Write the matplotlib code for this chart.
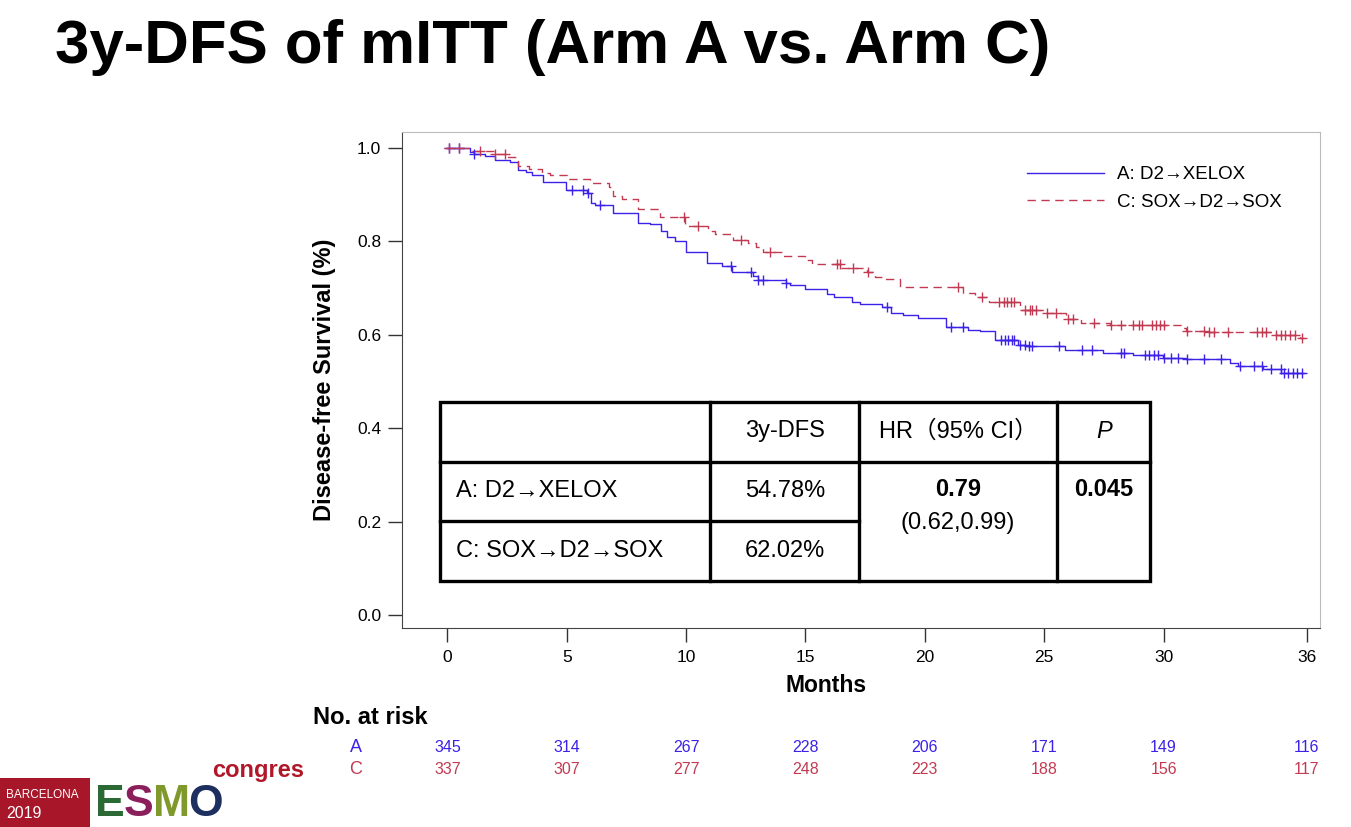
import numpy as np
import matplotlib
matplotlib.use("Agg")
import matplotlib.pyplot as plt
from matplotlib.patches import Rectangle
from matplotlib.transforms import blended_transform_factory

SANS = ["Liberation Sans", "DejaVu Sans"]
CJK = ["Liberation Sans", "Noto Sans CJK SC", "DejaVu Sans"]
plt.rcParams["font.family"] = SANS

BLUE = "#3b22e6"
RED = "#c23a52"

# Kaplan-Meier steps (months, survival)
a_times = [0, 0.96, 1.1, 1.59, 2.0, 2.64, 2.94, 3.3, 3.54, 4.0, 4.98, 5.84, 6.0, 6.2,
           6.93, 8.0, 8.5, 8.94, 9.19, 9.54, 9.98, 10.87, 11.49, 11.91, 12.82, 13.0,
           14.2, 14.35, 14.98, 15.9, 16.2, 16.93, 17.28, 18.19, 18.6, 19.1, 19.72,
           20.9, 21.8, 22.3, 22.93, 23.9, 24.25, 25.86, 27.46, 28.7, 29.97, 30.95,
           32.76, 33.1, 34.15, 34.92, 35.9]
a_surv = [1.0, 0.991, 0.987, 0.983, 0.973, 0.969, 0.953, 0.948, 0.942, 0.928, 0.910,
          0.903, 0.882, 0.878, 0.860, 0.840, 0.836, 0.821, 0.810, 0.801, 0.778, 0.754,
          0.747, 0.735, 0.726, 0.717, 0.710, 0.707, 0.697, 0.687, 0.680, 0.671, 0.666,
          0.659, 0.647, 0.642, 0.635, 0.617, 0.610, 0.607, 0.588, 0.578, 0.575, 0.567,
          0.560, 0.557, 0.551, 0.548, 0.539, 0.532, 0.526, 0.519, 0.519]
c_times = [0, 0.96, 1.94, 2.5, 2.96, 3.4, 3.96, 4.3, 5.0, 5.98, 6.75, 6.93, 7.3, 8.0,
           8.9, 9.96, 10.93, 11.2, 11.98, 12.6, 12.93, 13.2, 14.0, 15.0, 15.26, 16.5,
           17.56, 17.9, 18.2, 18.95, 21.6, 22.1, 22.7, 23.97, 25.0, 25.9, 26.56, 27.74,
           30.74, 30.95, 31.9, 34.7, 35.7, 35.9]
c_surv = [1.0, 0.994, 0.987, 0.980, 0.961, 0.954, 0.946, 0.941, 0.934, 0.924, 0.917,
          0.897, 0.890, 0.869, 0.853, 0.833, 0.821, 0.815, 0.803, 0.797, 0.787, 0.778,
          0.769, 0.760, 0.752, 0.742, 0.735, 0.724, 0.719, 0.703, 0.689, 0.680, 0.671,
          0.653, 0.646, 0.633, 0.626, 0.621, 0.614, 0.608, 0.605, 0.600, 0.593, 0.593]

# censoring marks (months)
a_cens = [0.05, 0.5, 1.1, 5.2, 5.7, 5.9, 6.4, 11.9, 12.7, 13.0, 13.2, 14.2, 18.4, 21.1,
          21.6, 23.2, 23.35, 23.5, 23.65, 23.75, 24.0, 24.2, 24.35, 24.5, 25.6, 26.6,
          27.0, 28.2, 28.35, 29.2, 29.4, 29.6, 29.75, 30.0, 30.3, 30.6, 31.0, 31.7,
          32.4, 33.2, 33.8, 34.1, 34.5, 34.9, 35.05, 35.2, 35.4, 35.6, 35.8]
c_cens = [0.05, 0.5, 1.38, 2.0, 2.4, 9.9, 10.5, 12.3, 13.5, 16.3, 16.45, 17.0, 17.6,
          21.4, 22.4, 23.1, 23.3, 23.45, 23.6, 23.75, 24.2, 24.4, 24.5, 24.65, 25.1,
          25.5, 26.0, 26.2, 27.1, 27.8, 28.2, 28.7, 28.95, 29.1, 29.5, 29.7, 29.85,
          30.0, 31.0, 31.7, 31.9, 32.1, 32.7, 33.9, 34.1, 34.3, 34.7, 34.9, 35.1, 35.3,
          35.5, 35.8]

risk_times = [0, 5, 10, 15, 20, 25, 30, 36]
risk_a = [345, 314, 267, 228, 206, 171, 149, 116]
risk_c = [337, 307, 277, 248, 223, 188, 156, 117]

arm_labels = ["A: D2\u2192XELOX", "C: SOX\u2192D2\u2192SOX"]
table_header = ["3y-DFS", "HR\uff0895% CI\uff09", "P"]
dfs_3y = ["54.78%", "62.02%"]
hr_text = "0.79"
hr_ci = "(0.62,0.99)"
p_text = "0.045"

W, H = 1351, 827
fig = plt.figure(figsize=(W / 100, H / 100), dpi=100)

# main KM axes
ax = fig.add_axes([402 / W, 1 - 628 / H, 918 / W, 496 / H])
ax.set_xlim(-1.9, 36.55)
ax.set_ylim(-0.028, 1.034)


def km_at(times, surv, t):
    idx = np.searchsorted(times, t, side="right") - 1
    return np.asarray(surv)[idx]


ax.step(a_times, a_surv, where="post", color=BLUE, lw=1.0, label=arm_labels[0])
ax.step(c_times, c_surv, where="post", color=RED, lw=1.0, ls=(0, (6, 4)),
        label=arm_labels[1])
ax.plot(a_cens, km_at(a_times, a_surv, a_cens), ls="none", marker="+", ms=7,
        mew=1.0, color=BLUE)
ax.plot(c_cens, km_at(c_times, c_surv, c_cens), ls="none", marker="+", ms=7,
        mew=1.0, color=RED)

ax.set_xticks(risk_times)
ax.set_yticks([0, 0.2, 0.4, 0.6, 0.8, 1.0])
ax.set_yticklabels(["0.0", "0.2", "0.4", "0.6", "0.8", "1.0"])
ax.tick_params(direction="out", length=10, width=1, color="#333333",
               labelsize=12.5, pad=5)
ax.tick_params(axis="x", pad=6)
for side in ["left", "bottom"]:
    ax.spines[side].set_color("#444444")
for side in ["top", "right"]:
    ax.spines[side].set_color("#bbbbbb")
ax.set_ylabel("Disease-free Survival (%)", fontsize=17, fontweight="bold", labelpad=15)
ax.set_xlabel("Months", fontsize=16.5, fontweight="bold", labelpad=6,
              x=(826 - 402) / 918)

ax.legend(loc="upper left", bbox_to_anchor=(0.671, 0.95), frameon=False,
          fontsize=13.5, handlelength=4.1, handletextpad=0.7, labelspacing=0.55,
          borderpad=0)

# overlay in pixel coordinates for the title, table and logo
cv = fig.add_axes([0, 0, 1, 1], zorder=5)
cv.set_xlim(0, W)
cv.set_ylim(H, 0)
cv.axis("off")

cv.text(55, 47, "3y-DFS of mITT (Arm A vs. Arm C)", fontsize=44.5, fontweight="bold",
        ha="left", va="center", color="black")

# summary table
tx0, tx1, ty0, ty1 = 440, 1150, 402, 581
cols = [710, 859, 1057]
cv.add_patch(Rectangle((tx0, ty0), tx1 - tx0, ty1 - ty0, facecolor="white",
                       edgecolor="black", lw=2.4))
for cx in cols:
    cv.plot([cx, cx], [ty0, ty1], color="black", lw=2.4)
cv.plot([tx0, tx1], [462, 462], color="black", lw=2.4)
cv.plot([tx0, cols[1]], [521, 521], color="black", lw=2.4)

tfs = 17
cv.text(785, 431, table_header[0], fontsize=tfs, family=CJK, ha="center", va="center")
cv.text(958, 431, table_header[1], fontsize=tfs, family=CJK, ha="center", va="center")
cv.text(1104, 431, table_header[2], fontsize=tfs, family=CJK, style="italic",
        ha="center", va="center")
cv.text(456, 491, arm_labels[0], fontsize=tfs, family=CJK, ha="left", va="center")
cv.text(456, 551, arm_labels[1], fontsize=tfs, family=CJK, ha="left", va="center")
cv.text(785, 491, dfs_3y[0], fontsize=tfs, family=CJK, ha="center", va="center")
cv.text(785, 551, dfs_3y[1], fontsize=tfs, family=CJK, ha="center", va="center")
cv.text(958, 490, hr_text, fontsize=tfs, family=CJK, fontweight="bold",
        ha="center", va="center")
cv.text(958, 523, hr_ci, fontsize=tfs, family=CJK, ha="center", va="center")
cv.text(1104, 490, p_text, fontsize=tfs, family=CJK, fontweight="bold",
        ha="center", va="center")

# numbers at risk
cv.text(313, 717, "No. at risk", fontsize=17, fontweight="bold", ha="left", va="center")
cv.text(356, 747, "A", fontsize=13, color=BLUE, ha="center", va="center")
cv.text(356, 770, "C", fontsize=13, color=RED, ha="center", va="center")
tr = blended_transform_factory(ax.transData, cv.transData)
for t, na, nc in zip(risk_times, risk_a, risk_c):
    cv.text(t, 747, str(na), transform=tr, fontsize=11.5, color=BLUE,
            ha="center", va="center")
    cv.text(t, 770, str(nc), transform=tr, fontsize=11.5, color=RED,
            ha="center", va="center")

# congress logo
cv.add_patch(Rectangle((0, 778), 90, 49, facecolor="#a8162a", edgecolor="none"))
cv.text(6, 795, "BARCELONA", fontsize=8.5, color="white", ha="left", va="center")
cv.text(6, 813, "2019", fontsize=11.5, color="white", ha="left", va="center")
for letter, lx, col in [("E", 95, "#2c6a35"), ("S", 124, "#8a1f5c"),
                        ("M", 153, "#80992c"), ("O", 188, "#1d2f5e")]:
    cv.text(lx, 784, letter, fontsize=32, fontweight="bold", color=col,
            ha="left", va="top")
cv.text(212, 770, "congres", fontsize=17, fontweight="bold", color="#b0182a",
        ha="left", va="center")

fig.savefig("out.png", dpi=100)
